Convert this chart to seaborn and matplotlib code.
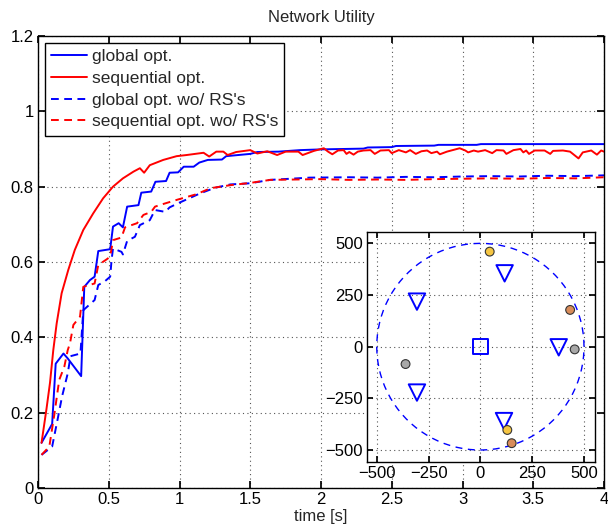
import numpy as np
import pandas as pd
import matplotlib
matplotlib.use("Agg")
import matplotlib.pyplot as plt
import seaborn as sns

# =========================
# Dados
# =========================
t_global = [0.025, 0.1, 0.125, 0.18, 0.21, 0.305, 0.327, 0.367, 0.4, 0.426, 0.51, 0.53, 0.57, 0.6,
            0.63, 0.71, 0.73, 0.8, 0.83, 0.905, 0.93, 0.99, 1.03, 1.1, 1.14, 1.2, 1.3, 1.33, 1.5, 1.55,
            1.7, 1.85, 2.0, 2.3, 2.33, 2.5, 2.53, 2.8, 2.83, 3.1, 3.13, 4.0]
v_global = [0.12, 0.17, 0.33, 0.357, 0.344, 0.297, 0.534, 0.552, 0.561, 0.629, 0.634, 0.694, 0.703, 0.692,
            0.747, 0.751, 0.784, 0.787, 0.813, 0.815, 0.837, 0.838, 0.853, 0.853, 0.864, 0.871, 0.872, 0.881, 0.887, 0.892,
            0.893, 0.897, 0.899, 0.901, 0.904, 0.905, 0.908, 0.909, 0.911, 0.911, 0.913, 0.913]

t_seq = [0.025, 0.06, 0.085, 0.108, 0.132, 0.167, 0.214, 0.26, 0.32, 0.39, 0.46, 0.53, 0.6, 0.675, 0.72,
         0.75, 0.79, 0.885, 0.98, 1.05, 1.17, 1.21,
         1.26, 1.31, 1.34, 1.4, 1.5, 1.55, 1.62, 1.69, 1.75, 1.84, 1.87, 1.95, 2.02, 2.05, 2.08,
         2.12, 2.16, 2.18, 2.2, 2.23, 2.26, 2.3, 2.35, 2.38, 2.42, 2.48, 2.5, 2.55, 2.6, 2.63,
         2.67, 2.71, 2.75, 2.78, 2.82, 2.84, 2.89, 2.93, 2.98, 3.02, 3.04, 3.08, 3.11, 3.16, 3.21,
         3.24, 3.29, 3.31, 3.36, 3.41, 3.43, 3.45, 3.47, 3.51, 3.58, 3.62, 3.64, 3.71, 3.76, 3.82,
         3.85, 3.91, 3.95, 3.98, 4.0]
v_seq = [0.12, 0.21, 0.28, 0.366, 0.437, 0.517, 0.579, 0.632, 0.685, 0.729, 0.769, 0.80, 0.822, 0.84, 0.849,
         0.837, 0.857, 0.871, 0.881, 0.884, 0.89, 0.88,
         0.893, 0.893, 0.884, 0.892, 0.897, 0.888, 0.894, 0.884, 0.893, 0.893, 0.884, 0.895, 0.902, 0.893, 0.886,
         0.896, 0.897, 0.887, 0.892, 0.885, 0.893, 0.896, 0.897, 0.887, 0.896, 0.897, 0.889, 0.897, 0.891, 0.897,
         0.887, 0.894, 0.896, 0.889, 0.893, 0.886, 0.893, 0.897, 0.902, 0.896, 0.891, 0.896, 0.893, 0.897, 0.889,
         0.897, 0.896, 0.887, 0.897, 0.9, 0.891, 0.896, 0.887, 0.896, 0.896, 0.887, 0.895, 0.896, 0.893, 0.875,
         0.891, 0.896, 0.885, 0.896, 0.893]

t_global_wo = [0.025, 0.1, 0.14, 0.17, 0.21, 0.23, 0.3, 0.32, 0.4, 0.426, 0.47, 0.51, 0.52, 0.53, 0.59,
               0.6, 0.63, 0.685, 0.72, 0.79, 0.827, 0.9, 0.93, 0.99, 1.145, 1.25, 1.36, 1.5,
               1.64, 1.92, 2.2, 2.4, 2.6, 2.8, 3.0, 3.2, 3.4, 3.6, 3.8, 4.0]
v_global_wo = [0.088, 0.11, 0.185, 0.243, 0.304, 0.35, 0.357, 0.472, 0.499, 0.539, 0.548, 0.561, 0.605, 0.636, 0.627,
               0.62, 0.656, 0.667, 0.698, 0.711, 0.738, 0.733, 0.745, 0.756, 0.782, 0.797, 0.806, 0.809,
               0.818, 0.824, 0.825, 0.824, 0.826, 0.825, 0.827, 0.828, 0.827, 0.829, 0.828, 0.83]

t_seq_wo = [0.025, 0.08, 0.115, 0.15, 0.186, 0.21, 0.226, 0.25, 0.297, 0.32, 0.4, 0.426, 0.485, 0.51, 0.53,
            0.59, 0.615, 0.7, 0.745, 0.8, 0.827, 0.885, 0.99, 1.12, 1.22, 1.36, 1.5, 1.64, 2.0, 2.2,
            2.4, 2.6, 2.8, 3.0, 3.2, 3.4, 3.6, 3.8, 4.0]
v_seq_wo = [0.088, 0.11, 0.194, 0.287, 0.322, 0.366, 0.384, 0.433, 0.455, 0.534, 0.543, 0.592, 0.607, 0.614, 0.658,
            0.665, 0.692, 0.703, 0.725, 0.733, 0.747, 0.754, 0.766, 0.78, 0.796, 0.804, 0.81, 0.818, 0.82, 0.818,
            0.819, 0.818, 0.82, 0.821, 0.822, 0.821, 0.823, 0.822, 0.825]

series_names = ["global opt.", "sequential opt.", "global opt. wo/ RS's", "sequential opt. wo/ RS's"]

# Topologia (inset)
bs_x = [0]
bs_y = [0]
rs_x = [117, -306, -306, 378, 114]
rs_y = [355, 218, -222, -3, -360]
user_x = [45, 433, 455, -361, 130, 151]
user_y = [460, 178, -13, -84, -403, -467]
user_cor = ["#f5c542", "#d98c5a", "#a8a8a8", "#a8a8a8", "#f5c542", "#d98c5a"]
raio = 500

x_ticks = [0, 0.5, 1, 1.5, 2, 2.5, 3, 3.5, 4]
x_ticklabels = ["0", "0.5", "1", "1.5", "2", "2.5", "3", "3.5", "4"]
y_ticks = [0, 0.2, 0.4, 0.6, 0.8, 1.0, 1.2]
y_ticklabels = ["0", "0.2", "0.4", "0.6", "0.8", "1", "1.2"]
inset_ticks = [-500, -250, 0, 250, 500]

# =========================
# Estilo
# =========================
sns.set_theme(style="ticks")
plt.rcParams["font.family"] = ["Liberation Sans", "DejaVu Sans"]
plt.rcParams["font.size"] = 12
plt.rcParams["xtick.direction"] = "in"
plt.rcParams["ytick.direction"] = "in"
plt.rcParams["axes.edgecolor"] = "black"
plt.rcParams["axes.linewidth"] = 1.0
plt.rcParams["xtick.color"] = "black"
plt.rcParams["ytick.color"] = "black"

fig = plt.figure(figsize=(6.08, 5.27), dpi=100)
ax = fig.add_axes([38 / 608, 1 - 488 / 527, (604 - 38) / 608, (488 - 36) / 527])

estilos = [
    (t_global, v_global, "#0000ff", "-"),
    (t_seq, v_seq, "#ff0000", "-"),
    (t_global_wo, v_global_wo, "#0000ff", "--"),
    (t_seq_wo, v_seq_wo, "#ff0000", "--"),
]
for (tt, vv, cor, ls), nome in zip(estilos, series_names):
    df = pd.DataFrame({"t": tt, "v": vv})
    sns.lineplot(data=df, x="t", y="v", ax=ax, color=cor, linewidth=1.4, label=nome,
                 estimator=None, sort=False)
    if ls == "--":
        ax.lines[-1].set_dashes((4, 2.8))

ax.set_xlim(0, 4)
ax.set_ylim(0, 1.2)
ax.set_xticks(x_ticks)
ax.set_xticklabels(x_ticklabels)
ax.set_yticks(y_ticks)
ax.set_yticklabels(y_ticklabels)
ax.tick_params(top=True, right=True, length=5, labelsize=12, pad=3)
ax.grid(True, linestyle=(0, (1, 3)), color="#555555", linewidth=0.8)
ax.set_xlabel("time [s]", fontsize=12, labelpad=1)
ax.set_ylabel("")
ax.set_title("Network Utility", fontsize=12, pad=10)

leg = ax.legend(loc="upper left", fontsize=12.5, frameon=True, fancybox=False, handlelength=2.1,
                handletextpad=0.25, borderpad=0.35, labelspacing=0.38, borderaxespad=0.4)
leg.get_frame().set_edgecolor("black")
leg.get_frame().set_linewidth(1.0)
leg.get_frame().set_alpha(1)

# =========================
# Inset com a topologia
# =========================
axi = fig.add_axes([367 / 608, 1 - 462 / 527, (595 - 367) / 608, (462 - 232) / 527])
ang = np.linspace(0, 2 * np.pi, 200)
circ = pd.DataFrame({"x": raio * np.cos(ang), "y": raio * np.sin(ang)})
sns.lineplot(data=circ, x="x", y="y", ax=axi, color="#0000ff", linewidth=1.0, estimator=None, sort=False)
axi.lines[-1].set_dashes((5, 4))

sns.scatterplot(x=bs_x, y=bs_y, ax=axi, marker="s", s=110, facecolor="none", edgecolor="#0000ff", linewidth=1.4)
sns.scatterplot(x=rs_x, y=rs_y, ax=axi, marker="v", s=140, facecolor="none", edgecolor="#0000ff", linewidth=1.4)
axi.scatter(user_x, user_y, s=40, c=user_cor, edgecolors="#333333", linewidths=0.8, zorder=5)

axi.set_xlim(-547, 553)
axi.set_ylim(-558, 555)
axi.set_xticks(inset_ticks)
axi.set_yticks(inset_ticks)
axi.set_xlabel("")
axi.set_ylabel("")
axi.tick_params(top=True, right=True, length=4, labelsize=12, pad=3)
axi.grid(True, linestyle=(0, (1, 3)), color="#555555", linewidth=0.8)

fig.savefig("out.png", dpi=100)
